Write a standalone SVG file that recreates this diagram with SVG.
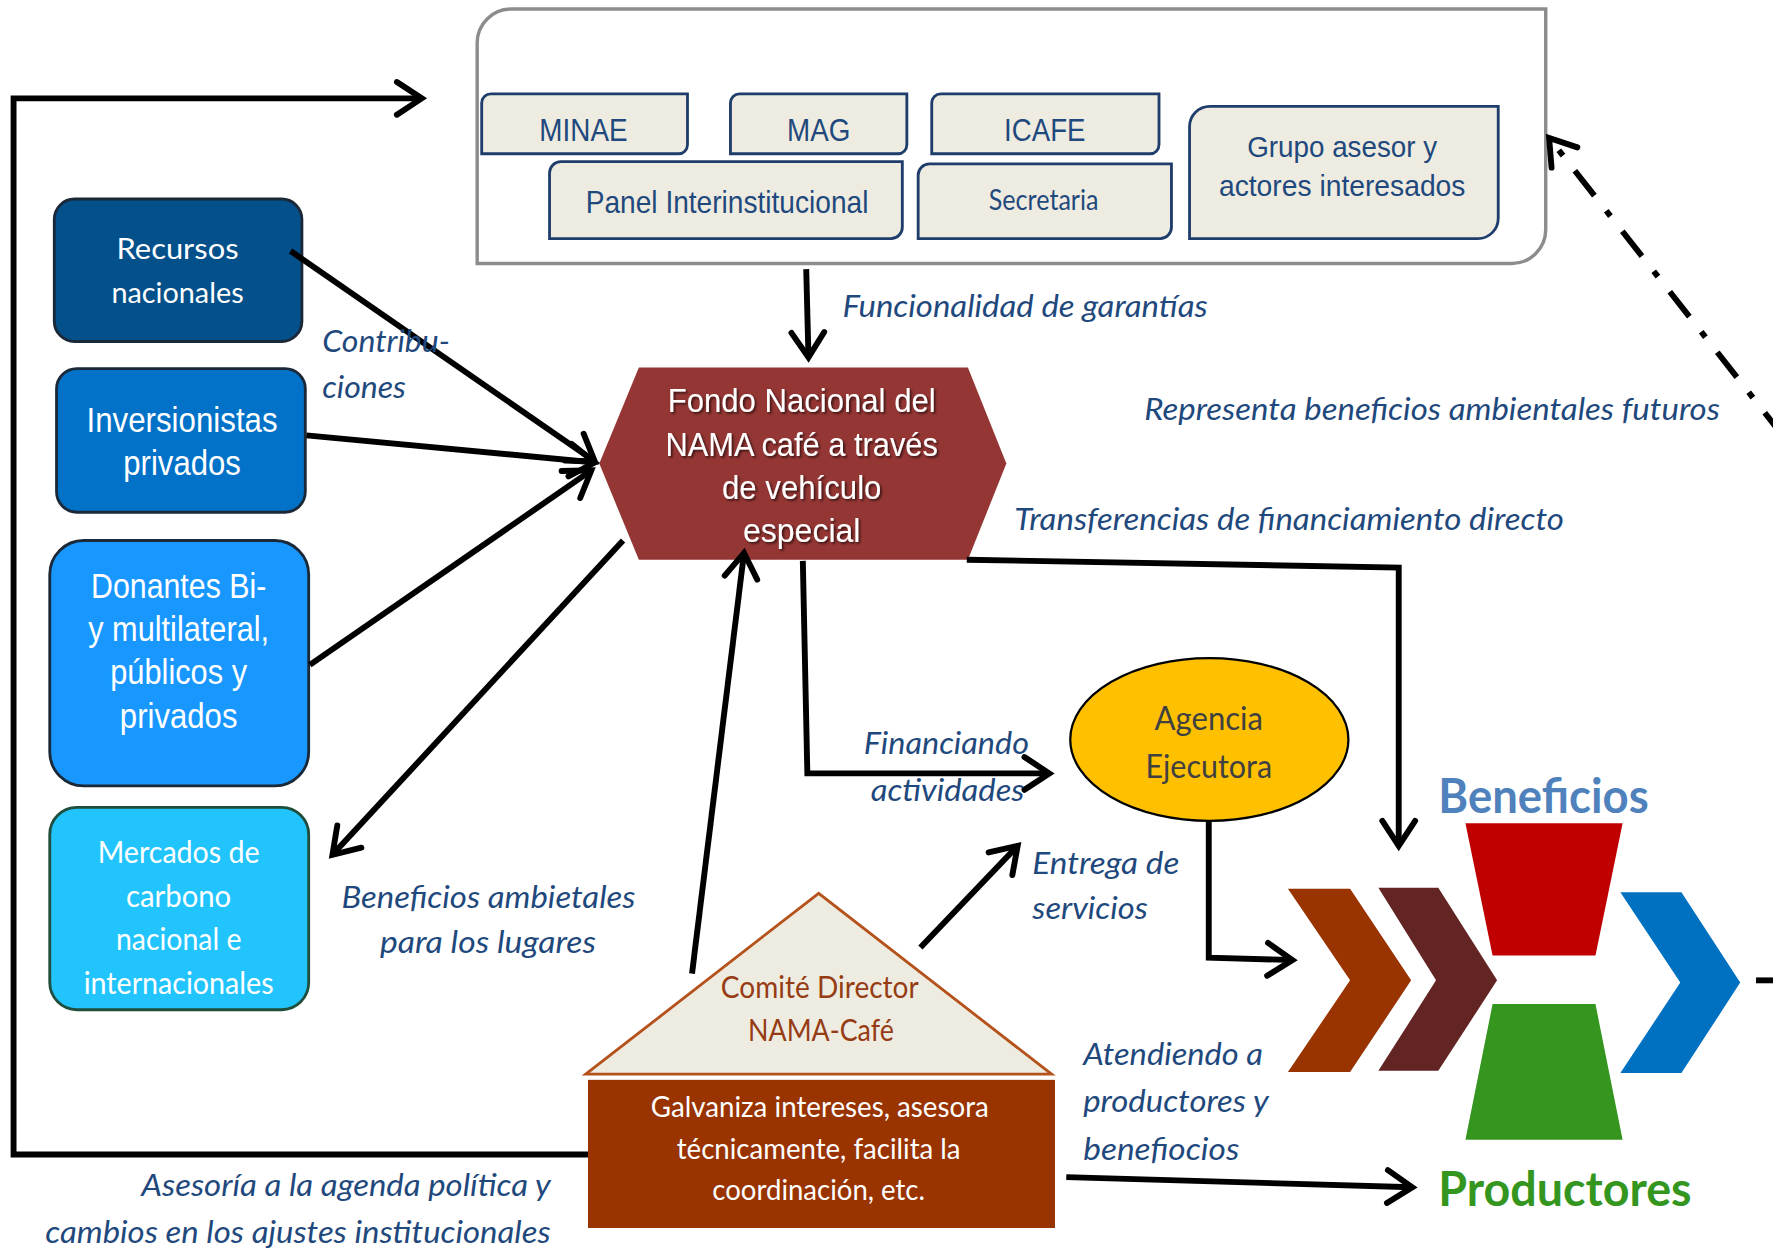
<svg xmlns="http://www.w3.org/2000/svg" width="1773" height="1253" viewBox="0 0 1773 1253">
<style>
.nar{font-family:"Liberation Sans Narrow","Liberation Sans",Arial,sans-serif}
.cal{font-family:Lato,"Open Sans","Liberation Sans",sans-serif}
.inbox{fill:#EEECE1;stroke:#1F3D6B;stroke-width:2.5}
.intxt{fill:#1F497D;text-anchor:middle}
.lbox{stroke:#1B2838;stroke-width:2.5}
.wt{fill:#fff;text-anchor:middle}
.lbl{font-family:Lato,"Open Sans","Liberation Sans",sans-serif;font-style:italic;fill:#1F497D;font-size:28px}
.conn{fill:none;stroke:#000;stroke-width:5.2;marker-end:url(#arr)}
</style>
<defs>
<marker id="arr" markerUnits="userSpaceOnUse" viewBox="0 0 27 32" markerWidth="27" markerHeight="32" refX="24" refY="16" orient="auto" overflow="visible">
<path d="M2,1.5 L24,16 L2,30.5" fill="none" stroke="#000" stroke-width="5.2" stroke-linecap="round" stroke-linejoin="miter"/>
</marker>
<filter id="shd" x="-10%" y="-20%" width="120%" height="140%">
<feDropShadow dx="1.5" dy="1.5" stdDeviation="1" flood-color="#000" flood-opacity="0.65"/>
</filter>
</defs>
<rect width="1773" height="1253" fill="#fff"/>
<g transform="scale(1.13074)">

<g id="instituciones">
<path d="M452,8 H1367 V203 A30,30 0 0 1 1337,233 H422 V38 A30,30 0 0 1 452,8 Z" fill="#fff" stroke="#8C8C8C" stroke-width="3"/>
</g>
<g id="minae">
<path class="inbox" d="M434,83 H608 V128 A8,8 0 0 1 600,136 H426 V91 A8,8 0 0 1 434,83 Z"/>
<text class="nar intxt" x="516" y="125" font-size="28" textLength="78" lengthAdjust="spacingAndGlyphs">MINAE</text>
</g>
<g id="mag">
<path class="inbox" d="M654,83 H802 V128 A8,8 0 0 1 794,136 H646 V91 A8,8 0 0 1 654,83 Z"/>
<text class="nar intxt" x="724" y="125" font-size="28" textLength="56" lengthAdjust="spacingAndGlyphs">MAG</text>
</g>
<g id="icafe">
<path class="inbox" d="M832,83 H1025 V128 A8,8 0 0 1 1017,136 H824 V91 A8,8 0 0 1 832,83 Z"/>
<text class="nar intxt" x="924" y="125" font-size="28" textLength="72" lengthAdjust="spacingAndGlyphs">ICAFE</text>
</g>
<g id="panel">
<path class="inbox" d="M496,143 H798 V201 A10,10 0 0 1 788,211 H486 V153 A10,10 0 0 1 496,143 Z"/>
<text class="nar intxt" x="643" y="188" font-size="28" textLength="250" lengthAdjust="spacingAndGlyphs">Panel Interinstitucional</text>
</g>
<g id="secretaria">
<path class="inbox" d="M822,145 H1036 V201 A10,10 0 0 1 1026,211 H812 V155 A10,10 0 0 1 822,145 Z"/>
<text class="cal intxt" x="923" y="186" font-size="25" textLength="97" lengthAdjust="spacingAndGlyphs">Secretaria</text>
</g>
<g id="grupo">
<path class="inbox" d="M1070,94 H1325 V193 A18,18 0 0 1 1307,211 H1052 V112 A18,18 0 0 1 1070,94 Z"/>
<text class="nar intxt" x="1187" y="139" font-size="26.5" textLength="168" lengthAdjust="spacingAndGlyphs">Grupo asesor y</text>
<text class="nar intxt" x="1187" y="173" font-size="26.5" textLength="218" lengthAdjust="spacingAndGlyphs">actores interesados</text>
</g>

<g id="recursos">
<rect class="lbox" x="48" y="176" width="219" height="126" rx="18" fill="#03508A"/>
<text class="cal wt" x="157" y="229" font-size="26" textLength="108" lengthAdjust="spacingAndGlyphs">Recursos</text>
<text class="cal wt" x="157" y="268" font-size="26" textLength="117" lengthAdjust="spacingAndGlyphs">nacionales</text>
</g>
<g id="inversionistas">
<rect class="lbox" x="50" y="326" width="220" height="127" rx="18" fill="#0272C8"/>
<text class="nar wt" x="161" y="382" font-size="31" textLength="169" lengthAdjust="spacingAndGlyphs">Inversionistas</text>
<text class="nar wt" x="161" y="420" font-size="31" textLength="104" lengthAdjust="spacingAndGlyphs">privados</text>
</g>
<g id="donantes">
<rect class="lbox" x="44" y="478" width="229" height="217" rx="30" fill="#1898FF"/>
<text class="nar wt" x="158" y="529" font-size="31" textLength="155" lengthAdjust="spacingAndGlyphs">Donantes Bi-</text>
<text class="nar wt" x="158" y="567" font-size="31" textLength="160" lengthAdjust="spacingAndGlyphs">y multilateral,</text>
<text class="nar wt" x="158" y="605" font-size="31" textLength="121" lengthAdjust="spacingAndGlyphs">públicos y</text>
<text class="nar wt" x="158" y="644" font-size="31" textLength="104" lengthAdjust="spacingAndGlyphs">privados</text>
</g>
<g id="mercados">
<rect x="44" y="714" width="229" height="179" rx="24" fill="#22C4FE" stroke="#1F4E3D" stroke-width="2.5"/>
<text class="cal wt" x="158" y="763" font-size="28" textLength="143" lengthAdjust="spacingAndGlyphs">Mercados de</text>
<text class="cal wt" x="158" y="802" font-size="28" textLength="93" lengthAdjust="spacingAndGlyphs">carbono</text>
<text class="cal wt" x="158" y="840" font-size="28" textLength="111" lengthAdjust="spacingAndGlyphs">nacional e</text>
<text class="cal wt" x="158" y="879" font-size="28" textLength="168" lengthAdjust="spacingAndGlyphs">internacionales</text>
</g>

<g id="fondo">
<polygon points="565,325 856,325 890,410 856,495 565,495 530,410" fill="#943634"/>
<g filter="url(#shd)">
<text class="nar wt" x="709" y="364" font-size="30" textLength="237" lengthAdjust="spacingAndGlyphs">Fondo Nacional del</text>
<text class="nar wt" x="709" y="403" font-size="30" textLength="241" lengthAdjust="spacingAndGlyphs">NAMA café a través</text>
<text class="nar wt" x="709" y="441" font-size="30" textLength="141" lengthAdjust="spacingAndGlyphs">de vehículo</text>
<text class="nar wt" x="709" y="479" font-size="30" textLength="104" lengthAdjust="spacingAndGlyphs">especial</text>
</g>
</g>

<g id="agencia">
<ellipse cx="1069.5" cy="654" rx="123" ry="72" fill="#FFC000" stroke="#000" stroke-width="2"/>
<text class="cal" x="1069" y="646" font-size="29" fill="#404040" text-anchor="middle" textLength="96" lengthAdjust="spacingAndGlyphs">Agencia</text>
<text class="cal" x="1069" y="688" font-size="29" fill="#404040" text-anchor="middle" textLength="112" lengthAdjust="spacingAndGlyphs">Ejecutora</text>
</g>

<g id="comite">
<polygon points="724,790 518,950 930,950" fill="#EEECE1" stroke="#B5521C" stroke-width="2.5"/>
<text class="cal" x="725" y="883" font-size="27" fill="#963C14" text-anchor="middle" textLength="175" lengthAdjust="spacingAndGlyphs">Comité Director</text>
<text class="cal" x="726" y="921" font-size="27" fill="#963C14" text-anchor="middle" textLength="129" lengthAdjust="spacingAndGlyphs">NAMA-Café</text>
<rect x="520" y="955" width="413" height="131" fill="#993300"/>
<text class="cal wt" x="725" y="988" font-size="26" textLength="299" lengthAdjust="spacingAndGlyphs">Galvaniza intereses, asesora</text>
<text class="cal wt" x="724" y="1025" font-size="26" textLength="251" lengthAdjust="spacingAndGlyphs">técnicamente, facilita la</text>
<text class="cal wt" x="724" y="1061" font-size="26" textLength="188" lengthAdjust="spacingAndGlyphs">coordinación, etc.</text>
</g>

<g id="beneficios">
<polygon points="1139,786 1194,786 1248,867 1194,948 1139,948 1194,867" fill="#993300"/>
<polygon points="1219,785 1272,785 1324,867 1272,947 1219,947 1270,867" fill="#632523"/>
<polygon points="1296,728 1435,728 1411,845 1320,845" fill="#C00000"/>
<polygon points="1320,888 1411,888 1435,1008 1296,1008" fill="#34961E"/>
<polygon points="1433,789 1487,789 1539,869 1487,949 1433,949 1486,869" fill="#0070C0"/>
<text class="cal" x="1272" y="719" font-size="43" font-weight="bold" fill="#4F81BD" textLength="186" lengthAdjust="spacingAndGlyphs">Beneficios</text>
<text class="cal" x="1272" y="1067" font-size="43" font-weight="bold" fill="#34961E" textLength="224" lengthAdjust="spacingAndGlyphs">Productores</text>
</g>

<g id="connectors">
<path class="conn" d="M520,1021 H12 V87 H373"/>
<path class="conn" d="M713,238 L715,316"/>
<path class="conn" d="M257,222 L526,408"/>
<path class="conn" d="M271,385 L526,409"/>
<path class="conn" d="M274,588 L523,416"/>
<path class="conn" d="M551,478 L294,756"/>
<path class="conn" d="M612,861 L658,489"/>
<path class="conn" d="M710,496 L714,684 H928"/>
<path class="conn" d="M855,495 L1237,502 V748"/>
<path class="conn" d="M814,838 L900,748"/>
<path class="conn" d="M1069,727 V847 L1143,849"/>
<path class="conn" d="M943,1041 L1249,1050"/>
<path class="conn" d="M1578,387 L1370,122" stroke-width="5.6" stroke-dasharray="28 17 6 17"/>
<path d="M1553,867 H1570" fill="none" stroke="#000" stroke-width="5.2"/>
</g>

<g id="labels">
<text class="lbl" x="745" y="280" textLength="323" lengthAdjust="spacingAndGlyphs">Funcionalidad de garantías</text>
<text class="lbl" x="285" y="311" textLength="113" lengthAdjust="spacingAndGlyphs">Contribu-</text>
<text class="lbl" x="285" y="352" textLength="74" lengthAdjust="spacingAndGlyphs">ciones</text>
<text class="lbl" x="1012" y="371" textLength="509" lengthAdjust="spacingAndGlyphs">Representa beneficios ambientales futuros</text>
<text class="lbl" x="897" y="469" textLength="486" lengthAdjust="spacingAndGlyphs">Transferencias de financiamiento directo</text>
<text class="lbl" x="764" y="667" textLength="146" lengthAdjust="spacingAndGlyphs">Financiando</text>
<text class="lbl" x="770" y="708" textLength="136" lengthAdjust="spacingAndGlyphs">actividades</text>
<text class="lbl" x="913" y="773" textLength="130" lengthAdjust="spacingAndGlyphs">Entrega de</text>
<text class="lbl" x="913" y="813" textLength="102" lengthAdjust="spacingAndGlyphs">servicios</text>
<text class="lbl" x="302" y="803" textLength="260" lengthAdjust="spacingAndGlyphs">Beneficios ambietales</text>
<text class="lbl" x="336" y="843" textLength="191" lengthAdjust="spacingAndGlyphs">para los lugares</text>
<text class="lbl" x="958" y="942" textLength="159" lengthAdjust="spacingAndGlyphs">Atendiendo a</text>
<text class="lbl" x="958" y="983" textLength="164" lengthAdjust="spacingAndGlyphs">productores y</text>
<text class="lbl" x="958" y="1026" textLength="138" lengthAdjust="spacingAndGlyphs">benefiocios</text>
<text class="lbl" x="125" y="1058" textLength="362" lengthAdjust="spacingAndGlyphs">Asesoría a la agenda política y</text>
<text class="lbl" x="40" y="1099" textLength="447" lengthAdjust="spacingAndGlyphs">cambios en los ajustes institucionales</text>
</g>
</g>
</svg>
